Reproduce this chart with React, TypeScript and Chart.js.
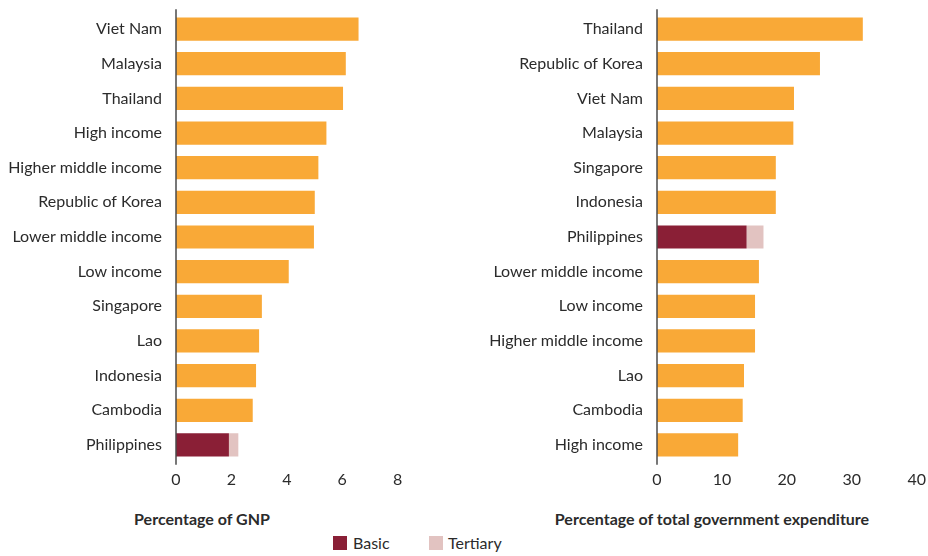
import React, { useEffect, useRef } from "react";
import { Chart, registerables } from "chart.js";

Chart.register(...registerables);

const leftCategories = [
  "Viet Nam", "Malaysia", "Thailand", "High income", "Higher middle income",
  "Republic of Korea", "Lower middle income", "Low income", "Singapore",
  "Lao", "Indonesia", "Cambodia", "Philippines",
];
const leftTotal = [6.59, 6.13, 6.03, 5.43, 5.14, 5.01, 4.98, 4.07, 3.1, 3.0, 2.89, 2.77, null];
const leftBasic = [null, null, null, null, null, null, null, null, null, null, null, null, 1.91];
const leftTertiary = [null, null, null, null, null, null, null, null, null, null, null, null, 0.34];
const leftTicks = [0, 2, 4, 6, 8];

const rightCategories = [
  "Thailand", "Republic of Korea", "Viet Nam", "Malaysia", "Singapore",
  "Indonesia", "Philippines", "Lower middle income", "Low income",
  "Higher middle income", "Lao", "Cambodia", "High income",
];
const rightTotal = [31.7, 25.1, 21.1, 21.0, 18.3, 18.3, null, 15.7, 15.1, 15.1, 13.4, 13.2, 12.5];
const rightBasic = [null, null, null, null, null, null, 13.8, null, null, null, null, null, null];
const rightTertiary = [null, null, null, null, null, null, 2.6, null, null, null, null, null, null];
const rightTicks = [0, 10, 20, 30, 40];

const leftTitle = "Percentage of GNP";
const rightTitle = "Percentage of total government expenditure";
const legendLabels = ["Basic", "Tertiary"];

const ORANGE = "#F9A937";
const BASIC = "#8A1F36";
const TERTIARY = "#E2C3C1";
const TEXT = "#2b2b2b";
const AXIS = "#4a4a4a";
const FONT = "Lato";
const FS = 16;

const axisLinePlugin = {
  id: "axisLine",
  afterDatasetsDraw(chart: any) {
    const { ctx, chartArea } = chart;
    ctx.save();
    ctx.strokeStyle = AXIS;
    ctx.lineWidth = 1.5;
    ctx.beginPath();
    ctx.moveTo(chartArea.left, chartArea.top - 2.5);
    ctx.lineTo(chartArea.left, chartArea.bottom + 2.5);
    ctx.stroke();
    ctx.restore();
  },
};

type PanelProps = {
  categories: string[];
  total: (number | null)[];
  basic: (number | null)[];
  tertiary: (number | null)[];
  ticks: number[];
  left: number;
  width: number;
  height: number;
  yWidth: number;
  padRight: number;
  plotTop: number;
  plotBottom: number;
};

function Panel(p: PanelProps) {
  const ref = useRef<HTMLCanvasElement | null>(null);
  useEffect(() => {
    if (!ref.current) return;
    const ds = (label: string, data: (number | null)[], color: string) => ({
      label,
      data,
      backgroundColor: color,
      borderWidth: 0,
      barPercentage: 0.67,
      categoryPercentage: 1,
    });
    const chart = new Chart(ref.current, {
      type: "bar",
      data: {
        labels: p.categories,
        datasets: [
          ds("Total", p.total, ORANGE),
          ds(legendLabels[0], p.basic, BASIC),
          ds(legendLabels[1], p.tertiary, TERTIARY),
        ],
      },
      plugins: [axisLinePlugin],
      options: {
        indexAxis: "y",
        animation: false,
        responsive: false,
        maintainAspectRatio: false,
        devicePixelRatio: 1,
        layout: { padding: { top: p.plotTop, right: p.padRight, left: 0, bottom: 0 } },
        plugins: { legend: { display: false }, tooltip: { enabled: false } },
        scales: {
          x: {
            stacked: true,
            min: p.ticks[0],
            max: p.ticks[p.ticks.length - 1],
            afterBuildTicks: (s: any) => {
              s.ticks = p.ticks.map((v) => ({ value: v }));
            },
            afterFit: (s: any) => {
              s.height = p.height - p.plotBottom;
              s.paddingLeft = 0;
              s.paddingRight = 0;
            },
            ticks: { color: TEXT, font: { family: FONT, size: FS }, padding: 8, maxRotation: 0 },
            grid: { display: false, drawTicks: false },
            border: { display: false },
          },
          y: {
            stacked: true,
            afterFit: (s: any) => {
              s.width = p.yWidth;
              s.paddingTop = 0;
              s.paddingBottom = 0;
            },
            ticks: { color: TEXT, font: { family: FONT, size: FS }, padding: 14 },
            grid: { display: false, drawTicks: false },
            border: { display: false },
          },
        },
      } as any,
    });
    return () => chart.destroy();
  }, []);
  return (
    <canvas
      ref={ref}
      width={p.width}
      height={p.height}
      style={{ position: "absolute", left: p.left, top: 0, width: p.width, height: p.height }}
    />
  );
}

export default function App() {
  const titleStyle: React.CSSProperties = {
    position: "absolute",
    top: 508,
    fontFamily: FONT,
    fontWeight: 700,
    fontSize: FS,
    color: TEXT,
    whiteSpace: "nowrap",
    transform: "translateX(-50%)",
    lineHeight: "22px",
  };
  const legendText: React.CSSProperties = {
    position: "absolute",
    top: 532,
    fontFamily: FONT,
    fontSize: FS,
    color: TEXT,
    lineHeight: "22px",
    whiteSpace: "nowrap",
  };
  return (
    <div style={{ position: "fixed", left: 0, top: 0, width: 928, height: 556, background: "#fff", overflow: "hidden" }}>
      <Panel
        categories={leftCategories}
        total={leftTotal}
        basic={leftBasic}
        tertiary={leftTertiary}
        ticks={leftTicks}
        left={0}
        width={420}
        height={495}
        yWidth={176}
        padRight={22.4}
        plotTop={11.7}
        plotBottom={462.3}
      />
      <Panel
        categories={rightCategories}
        total={rightTotal}
        basic={rightBasic}
        tertiary={rightTertiary}
        ticks={rightTicks}
        left={464}
        width={464}
        height={495}
        yWidth={193}
        padRight={11.3}
        plotTop={11.7}
        plotBottom={462.3}
      />
      <div style={{ ...titleStyle, left: 202 }}>{leftTitle}</div>
      <div style={{ ...titleStyle, left: 712 }}>{rightTitle}</div>
      <div style={{ position: "absolute", left: 333, top: 536, width: 14, height: 14, background: BASIC }} />
      <div style={{ ...legendText, left: 353 }}>{legendLabels[0]}</div>
      <div style={{ position: "absolute", left: 429, top: 536, width: 14, height: 14, background: TERTIARY }} />
      <div style={{ ...legendText, left: 448 }}>{legendLabels[1]}</div>
    </div>
  );
}
